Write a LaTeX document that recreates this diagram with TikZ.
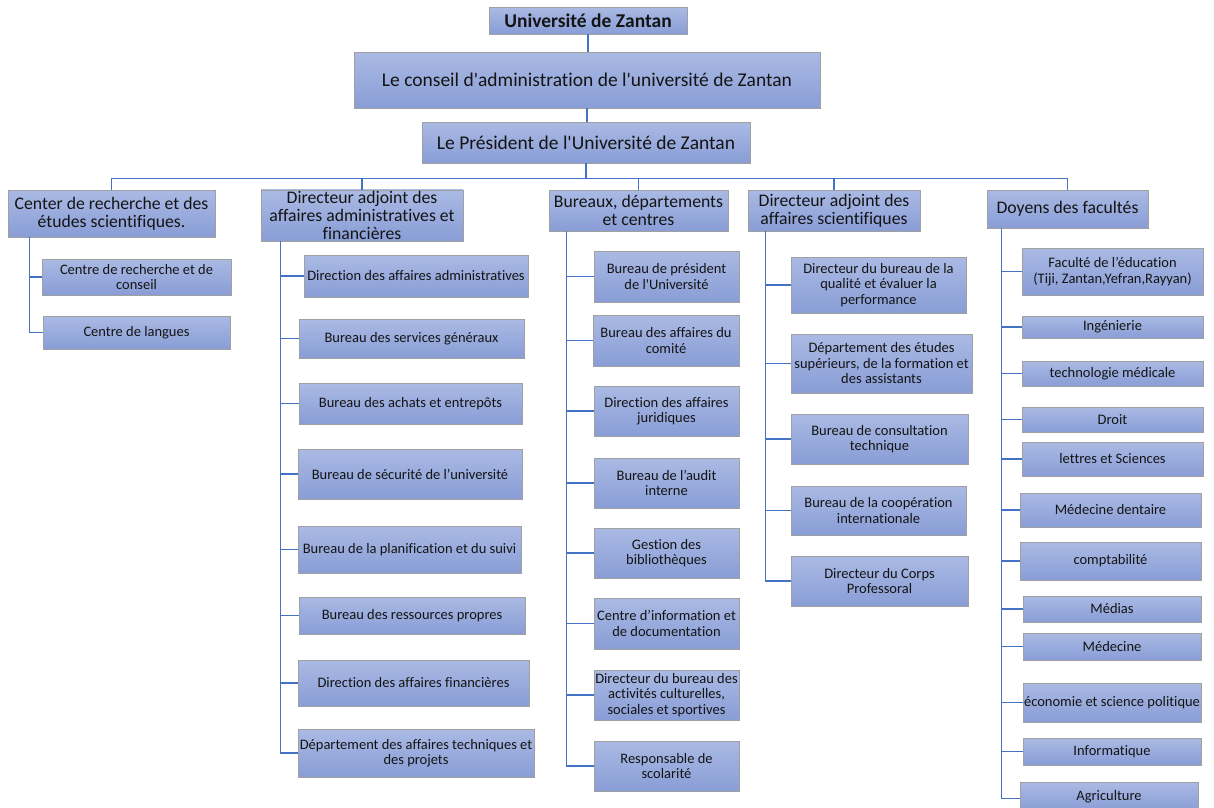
\documentclass[tikz,border=0pt]{standalone}
\usepackage{fontspec}
\setmainfont{Carlito}[Ligatures={TeXOff,CommonOff}]
\usetikzlibrary{shadows}
\definecolor{ln}{RGB}{68,114,196}
\definecolor{bt}{RGB}{170,186,228}
\definecolor{bb}{RGB}{137,157,214}
\definecolor{bd}{RGB}{160,160,160}
\definecolor{tx}{RGB}{20,20,20}
\tikzset{
 box/.style={draw=bd, line width=0.9pt, top color=bt, bottom color=bb, align=center, inner sep=1pt, text=tx,
   font=\fontsize{14.5}{15.5}\selectfont,
   drop shadow={shadow xshift=1.2pt, shadow yshift=-1.2pt, opacity=0.35, fill=black!60}},
 big/.style={box, font=\fontsize{17.7}{18.3}\selectfont},
 huge/.style={box, font=\fontsize{19.5}{21}\selectfont},
 titlebox/.style={box, font=\bfseries\fontsize{19.5}{21}\selectfont},
 con/.style={draw=ln, line width=1.7pt},
}
\newcommand{\ob}[7][box]{\node[#1,minimum width={(#5)-(#3)},minimum height={(#6)-(#4)}] (#2) at ({((#3)+(#5))/2},{((#4)+(#6))/2}) {#7};}
\begin{document}
\begin{tikzpicture}[x=1pt,y=-1pt]
\fill[white] (0,0) rectangle (1214,807);
\useasboundingbox (0,0) rectangle (1214,807);
% top
\ob[titlebox]{uni}{489}{7}{687}{34}{Université de Zantan}
\ob[huge]{cons}{354}{52}{820}{108}{Le conseil d'administration de l'université de Zantan}
\ob[huge]{pres}{422}{122}{750}{163}{Le Président de l'Université de Zantan}
% level 2
\ob[big]{la}{8}{190}{215}{237}{Center de recherche et des\\études scientifiques.}
\ob[big]{lb}{261}{190}{463}{241}{Directeur adjoint des\\affaires administratives et\\financières}
\ob[big]{lc}{549}{190}{728}{231}{Bureaux, départements\\et centres}
\ob[big]{ld}{748}{190}{920}{231}{Directeur adjoint des\\affaires scientifiques}
\ob[big]{le}{987}{190}{1148}{228}{Doyens des facultés}
% column 1
\ob{a1}{42}{259}{231}{295}{Centre de recherche et de\\conseil}
\ob{a2}{43}{316}{230}{349}{Centre de langues}
% column 2
\ob{b1}{304}{255}{528}{297}{Direction des affaires administratives}
\ob{b2}{299}{319}{524}{358}{Bureau des services généraux}
\ob{b3}{299}{383}{522}{424}{Bureau des achats et entrepôts}
\ob{b4}{298}{449}{522}{499}{Bureau de sécurité de l’université}
\ob{b5}{298}{526}{521}{573}{Bureau de la planification et du suivi}
\ob{b6}{299}{597}{525}{634}{Bureau des ressources propres}
\ob{b7}{298}{660}{529}{706}{Direction des affaires financières}
\ob{b8}{298}{729}{534}{777}{Département des affaires techniques et\\des projets}
% column 3
\ob{c1}{594}{251}{739}{302}{Bureau de président\\de l'Université}
\ob{c2}{593}{315}{739}{366}{Bureau des affaires du\\comité}
\ob{c3}{594}{386}{739}{436}{Direction des affaires\\juridiques}
\ob{c4}{594}{458}{739}{508}{Bureau de l’audit\\interne}
\ob{c5}{594}{528}{739}{578}{Gestion des\\bibliothèques}
\ob{c6}{594}{598}{739}{649}{Centre d’information et\\de documentation}
\ob{c7}{594}{670}{739}{720}{Directeur du bureau des\\activités culturelles,\\sociales et sportives}
\ob{c8}{594}{741}{739}{791}{Responsable de\\scolarité}
% column 4
\ob{d1}{791}{257}{966}{313}{Directeur du bureau de la\\qualité et évaluer la\\performance}
\ob{d2}{791}{334}{972}{393}{Département des études\\supérieurs, de la formation et\\des assistants}
\ob{d3}{791}{414}{968}{464}{Bureau de consultation\\technique}
\ob{d4}{791}{486}{966}{535}{Bureau de la coopération\\internationale}
\ob{d5}{791}{556}{968}{606}{Directeur du Corps\\Professoral}
% column 5
\ob{e1}{1022}{248}{1203}{295}{Faculté de l’éducation\\(Tiji, Zantan,Yefran,Rayyan)}
\ob{e2}{1022}{316}{1203}{338}{Ingénierie}
\ob{e3}{1022}{361}{1203}{386}{technologie médicale}
\ob{e4}{1022}{407}{1203}{432}{Droit}
\ob{e5}{1022}{442}{1203}{476}{lettres et Sciences}
\ob{e6}{1020}{493}{1201}{527}{Médecine dentaire}
\ob{e7}{1020}{542}{1201}{580}{comptabilité}
\ob{e8}{1023}{596}{1201}{622}{Médias}
\ob{e9}{1023}{633}{1201}{660}{Médecine}
\ob{e10}{1023}{683}{1201}{722}{économie et science politique}
\ob{e11}{1023}{738}{1201}{765}{Informatique}
\ob{e12}{1020}{782}{1198}{811}{Agriculture}
% connectors top
\draw[con] (uni.south) -- (uni.south |- cons.north);
\draw[con] (cons.south) -- (cons.south |- pres.north);
\draw[con] (pres.south) -- ++(0,15) -| (la.north);
\draw[con] (pres.south) -- ++(0,15) -| (lb.north);
\draw[con] (pres.south) -- ++(0,15) -| (lc.north);
\draw[con] (pres.south) -- ++(0,15) -| (ld.north);
\draw[con] (pres.south) -- ++(0,15) -| (le.north);
% column connectors
\foreach \c in {a1,a2}{\draw[con] ([xshift=22pt]la.south west) |- (\c.west);}
\foreach \c in {b1,b2,b3,b4,b5,b6,b7,b8}{\draw[con] ([xshift=20pt]lb.south west) |- (\c.west);}
\foreach \c in {c1,c2,c3,c4,c5,c6,c7,c8}{\draw[con] ([xshift=18pt]lc.south west) |- (\c.west);}
\foreach \c in {d1,d2,d3,d4,d5}{\draw[con] ([xshift=18pt]ld.south west) |- (\c.west);}
\foreach \c in {e1,e2,e3,e4,e5,e6,e7,e8,e9,e10,e11}{\draw[con] ([xshift=15pt]le.south west) |- (\c.west);}
\draw[con] ([xshift=15pt]le.south west) |- ([yshift=-2pt]e12.west);
\end{tikzpicture}
\end{document}
